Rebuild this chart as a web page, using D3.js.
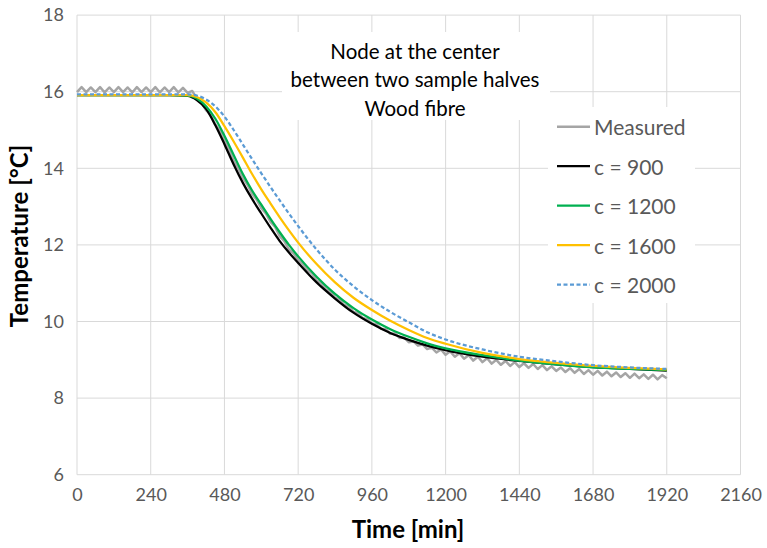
<!DOCTYPE html>
<html>
<head>
<meta charset="utf-8">
<script src="https://cdn.jsdelivr.net/npm/d3@7"></script>
<style>
  body { margin: 0; background: #fff; }
  svg { display: block; font-family: Lato, "Open Sans", sans-serif; }
</style>
</head>
<body>
<div id="chart"></div>
<script>
// tick values
const xTicks = [0, 240, 480, 720, 960, 1200, 1440, 1680, 1920, 2160];
const yTicks = [6, 8, 10, 12, 14, 16, 18];

// model times [min]
const modelTime = [0, 300, 360, 390, 420, 450, 480, 510, 540, 570, 600, 630, 660, 690, 720,
  780, 840, 900, 960, 1020, 1080, 1140, 1200, 1320, 1440, 1560, 1680, 1800, 1920];

// simulated temperatures [°C]
const c900 = [15.91, 15.91, 15.89, 15.78, 15.55, 15.13, 14.63, 14.1, 13.62, 13.2, 12.82, 12.45, 12.1, 11.8, 11.53,
  11.02, 10.6, 10.23, 9.94, 9.7, 9.52, 9.37, 9.25, 9.08, 8.97, 8.88, 8.81, 8.76, 8.72];
const c1200 = [15.91, 15.91, 15.9, 15.82, 15.62, 15.3, 14.85, 14.35, 13.85, 13.42, 13.05, 12.68, 12.33, 12.0, 11.7,
  11.17, 10.72, 10.35, 10.05, 9.8, 9.6, 9.43, 9.3, 9.12, 8.98, 8.88, 8.8, 8.76, 8.73];
const c1600 = [15.91, 15.91, 15.91, 15.86, 15.72, 15.47, 15.1, 14.7, 14.28, 13.85, 13.45, 13.08, 12.72, 12.38, 12.06,
  11.5, 11.02, 10.62, 10.3, 10.02, 9.78, 9.57, 9.42, 9.18, 9.02, 8.92, 8.84, 8.79, 8.75];
const c2000 = [15.93, 15.93, 15.93, 15.9, 15.8, 15.62, 15.35, 15.0, 14.62, 14.24, 13.87, 13.51, 13.16, 12.82, 12.49,
  11.88, 11.35, 10.92, 10.56, 10.25, 9.98, 9.72, 9.53, 9.27, 9.08, 8.96, 8.86, 8.8, 8.76];

// measured, one reading every 15 min from 0 to 1920
const measured = [
  15.99, 16.12, 15.99, 16.11, 15.99, 16.12, 15.98, 16.11, 15.99, 16.12, 15.99, 16.11, 15.98,
  16.12, 15.99, 16.11, 15.99, 16.12, 15.98, 16.11, 15.99, 16.12, 15.98, 16.1, 15.97, 16.02,
  15.82, 15.72, 15.52, 15.4, 15.15, 14.98, 14.72, 14.5, 14.2, 14.0, 13.75, 13.57, 13.33, 13.18,
  12.96, 12.82, 12.6, 12.47, 12.23, 12.1, 11.88, 11.78, 11.6, 11.5, 11.34, 11.26, 11.07, 11.01,
  10.84, 10.79, 10.62, 10.58, 10.43, 10.4, 10.25, 10.22, 10.09, 10.06, 9.95, 9.93, 9.81, 9.8,
  9.68, 9.69, 9.57, 9.58, 9.46, 9.48, 9.37, 9.4, 9.28, 9.32, 9.19, 9.27, 9.13, 9.22, 9.08, 9.17,
  9.03, 9.12, 8.98, 9.08, 8.94, 9.04, 8.9, 9.0, 8.87, 8.97, 8.84, 8.94, 8.81, 8.91, 8.79, 8.89,
  8.76, 8.86, 8.73, 8.83, 8.71, 8.8, 8.68, 8.78, 8.66, 8.76, 8.63, 8.73, 8.61, 8.71, 8.59, 8.69,
  8.57, 8.67, 8.55, 8.65, 8.53, 8.64, 8.52, 8.62, 8.5, 8.61, 8.49, 8.6, 8.52
];

const seriesNames = ["Measured", "c = 900", "c = 1200", "c = 1600", "c = 2000"];
const seriesColors = ["#a5a5a5", "#000000", "#00b050", "#ffc000", "#5b9bd5"];

const width = 767,
  height = 548;

const svg = d3.select("#chart").append("svg").attr("width", width).attr("height", height);

const x = d3.scaleLinear().domain([0, 2160]).range([77, 740.5]);
const y = d3.scaleLinear().domain([6, 18]).range([474.7, 15.1]);

// gridlines
svg
  .append("g")
  .selectAll("line")
  .data(xTicks)
  .join("line")
  .attr("x1", d => x(d))
  .attr("x2", d => x(d))
  .attr("y1", y(6))
  .attr("y2", y(18))
  .attr("stroke", "#d9d9d9")
  .attr("stroke-width", 1);

svg
  .append("g")
  .selectAll("line")
  .data(yTicks)
  .join("line")
  .attr("x1", x(0))
  .attr("x2", x(2160))
  .attr("y1", d => y(d))
  .attr("y2", d => y(d))
  .attr("stroke", "#d9d9d9")
  .attr("stroke-width", 1);

// axes (labels only)
const xAxis = svg
  .append("g")
  .attr("transform", `translate(0,${y(6)})`)
  .call(d3.axisBottom(x).tickValues(xTicks).tickSize(0).tickPadding(14).tickFormat(d3.format("d")));
const yAxis = svg
  .append("g")
  .attr("transform", `translate(${x(0)},0)`)
  .call(d3.axisLeft(y).tickValues(yTicks).tickSize(0).tickPadding(13));
[xAxis, yAxis].forEach(a => {
  a.select(".domain").remove();
  a.selectAll("text").attr("fill", "#595959").style("font-size", "18px").style("font-family", "Lato");
});

// axis titles
svg
  .append("text")
  .attr("x", 408)
  .attr("y", 528)
  .attr("text-anchor", "middle")
  .attr("dominant-baseline", "central")
  .style("font-size", "24px")
  .style("font-weight", "bold")
  .text("Time [min]");

svg
  .append("text")
  .attr("transform", "translate(18,236) rotate(-90)")
  .attr("text-anchor", "middle")
  .attr("dominant-baseline", "central")
  .style("font-size", "24px")
  .style("font-weight", "bold")
  .text("Temperature [°C]");

// title box
svg.append("rect").attr("x", 282).attr("y", 32).attr("width", 268).attr("height", 88).attr("fill", "#fff");
const titleLines = ["Node at the center", "between two sample halves", "Wood fibre"];
svg
  .append("g")
  .selectAll("text")
  .data(titleLines)
  .join("text")
  .attr("x", 415)
  .attr("y", (d, i) => 51 + i * 28.3)
  .attr("text-anchor", "middle")
  .attr("dominant-baseline", "central")
  .style("font-size", "20.5px")
  .text(d => d);

// lines
const line = d3
  .line()
  .x(d => x(d[0]))
  .y(d => y(d[1]))
  .curve(d3.curveMonotoneX);

svg
  .append("path")
  .attr("d", line.curve(d3.curveLinear)(measured.map((v, i) => [i * 15, v])))
  .attr("fill", "none")
  .attr("stroke", seriesColors[0])
  .attr("stroke-width", 2.5)
  .attr("stroke-linejoin", "round");

line.curve(d3.curveMonotoneX);
[c900, c1200, c1600, c2000].forEach((s, i) => {
  svg
    .append("path")
    .attr("d", line(modelTime.map((t, j) => [t, s[j]])))
    .attr("fill", "none")
    .attr("stroke", seriesColors[i + 1])
    .attr("stroke-width", 2.25)
    .attr("stroke-dasharray", i === 3 ? "4,2.5" : null);
});

// legend
svg.append("rect").attr("x", 548).attr("y", 107).attr("width", 147).attr("height", 196).attr("fill", "#fff");
const legend = svg
  .append("g")
  .selectAll("g")
  .data(seriesNames)
  .join("g")
  .attr("transform", (d, i) => `translate(557,${126.7 + i * 39.5})`);
legend
  .append("line")
  .attr("x1", 0)
  .attr("x2", 33)
  .attr("stroke", (d, i) => seriesColors[i])
  .attr("stroke-width", (d, i) => (i === 0 ? 2.5 : 2.25))
  .attr("stroke-dasharray", (d, i) => (i === 4 ? "4,2.5" : null));
legend
  .append("text")
  .attr("x", 37)
  .attr("dominant-baseline", "central")
  .attr("fill", "#595959")
  .style("font-size", "21px")
  .text(d => d);
</script>
</body>
</html>
